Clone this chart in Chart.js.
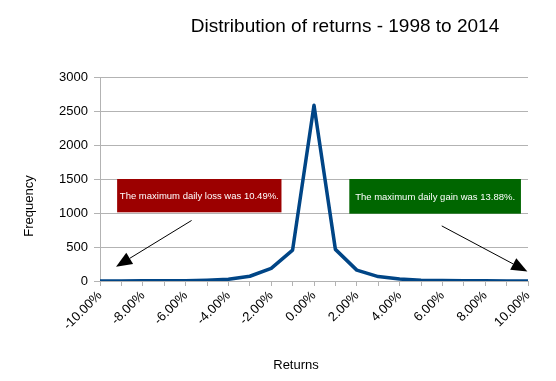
<!DOCTYPE html>
<html>
<head>
<meta charset="utf-8">
<script src="https://cdn.jsdelivr.net/npm/chart.js@4.4.1/dist/chart.umd.min.js"></script>
<style>
  html, body { margin: 0; padding: 0; background: #fff; }
  #wrap { width: 556px; height: 381px; }
</style>
</head>
<body>
<div id="wrap"><canvas id="returns-chart"></canvas></div>
<script>
// daily returns buckets (1% steps)
const returnLabels = ['-10.00%', '-9.00%', '-8.00%', '-7.00%', '-6.00%', '-5.00%', '-4.00%', '-3.00%', '-2.00%', '-1.00%',
  '0.00%', '1.00%', '2.00%', '3.00%', '4.00%', '5.00%', '6.00%', '7.00%', '8.00%', '9.00%', '10.00%'];
const frequencies = [1, 1, 2, 3, 5, 12, 25, 70, 185, 455, 2585, 465, 160, 65, 28, 12, 6, 3, 2, 1, 1];
const yTicks = [0, 500, 1000, 1500, 2000, 2500, 3000];

const lossText = 'The maximum daily loss was 10.49%.';
const gainText = 'The maximum daily gain was 13.88%.';

const FONT = '"Liberation Sans", Arial, sans-serif';

// callout boxes + arrows, placed in data units (category index, frequency)
const callouts = [
  { text: lossText, color: '#9c0000', x0: 0.8, x1: 8.48, y0: 1500, y1: 1010,
    arrow: { from: [4.28, 890], to: [0.75, 210] } },
  { text: gainText, color: '#006600', x0: 11.65, x1: 19.67, y0: 1500, y1: 990,
    arrow: { from: [15.97, 810], to: [19.97, 140] } }
];

function drawArrow(ctx, fx, fy, tx, ty) {
  const ang = Math.atan2(ty - fy, tx - fx);
  const len = 16, half = 6.5;
  const bx = tx - len * Math.cos(ang), by = ty - len * Math.sin(ang);
  ctx.strokeStyle = '#000';
  ctx.lineWidth = 1;
  ctx.beginPath();
  ctx.moveTo(fx, fy);
  ctx.lineTo(bx, by);
  ctx.stroke();
  ctx.fillStyle = '#000';
  ctx.beginPath();
  ctx.moveTo(tx, ty);
  ctx.lineTo(bx + half * Math.sin(ang), by - half * Math.cos(ang));
  ctx.lineTo(bx - half * Math.sin(ang), by + half * Math.cos(ang));
  ctx.closePath();
  ctx.fill();
}

const extrasPlugin = {
  id: 'extras',
  afterDatasetsDraw(chart) {
    const { ctx, scales: { x, y } } = chart;
    ctx.save();
    callouts.forEach(c => {
      const l = x.getPixelForValue(c.x0), r = x.getPixelForValue(c.x1);
      const t = y.getPixelForValue(c.y0), b = y.getPixelForValue(c.y1);
      ctx.fillStyle = c.color;
      ctx.fillRect(l, t, r - l, b - t);
      ctx.fillStyle = '#fff';
      ctx.font = '9.5px ' + FONT;
      ctx.textAlign = 'center';
      ctx.textBaseline = 'middle';
      ctx.fillText(c.text, (l + r) / 2, (t + b) / 2 + 1);
      drawArrow(ctx,
        x.getPixelForValue(c.arrow.from[0]), y.getPixelForValue(c.arrow.from[1]),
        x.getPixelForValue(c.arrow.to[0]), y.getPixelForValue(c.arrow.to[1]));
    });

    // titles
    ctx.fillStyle = '#000';
    ctx.textAlign = 'center';
    ctx.textBaseline = 'middle';
    ctx.font = '19px ' + FONT;
    ctx.fillText('Distribution of returns - 1998 to 2014', 345, 27);
    ctx.font = '13px ' + FONT;
    ctx.fillText('Returns', 296, 365);
    ctx.translate(29, 206);
    ctx.rotate(-Math.PI / 2);
    ctx.fillText('Frequency', 0, 0);
    ctx.restore();
  }
};

new Chart(document.getElementById('returns-chart'), {
  type: 'line',
  data: {
    labels: returnLabels,
    datasets: [{
      data: frequencies,
      borderColor: '#004586',
      borderWidth: 3.5,
      borderJoinStyle: 'round',
      pointRadius: 0,
      tension: 0,
      fill: false
    }]
  },
  options: {
    responsive: true,
    maintainAspectRatio: false,
    animation: false,
    layout: { padding: { top: 77, right: 28, left: 0, bottom: 0 } },
    plugins: {
      legend: { display: false },
      tooltip: { enabled: false }
    },
    scales: {
      x: {
        offset: false,
        border: { color: '#b3b3b3' },
        grid: { drawOnChartArea: false, tickColor: '#b3b3b3', tickLength: 5 },
        ticks: {
          autoSkip: false,
          minRotation: 45,
          maxRotation: 45,
          padding: 2,
          color: '#000',
          font: { family: FONT, size: 13 },
          callback: (v, i) => (i % 2 === 0 ? returnLabels[i] : '')
        },
        afterFit: s => { s.height = 100; }
      },
      y: {
        min: 0,
        max: 3000,
        border: { color: '#b3b3b3' },
        grid: { color: '#b3b3b3', tickLength: 6 },
        afterBuildTicks: s => { s.ticks = yTicks.map(v => ({ value: v })); },
        ticks: {
          padding: 6,
          color: '#000',
          font: { family: FONT, size: 13 },
          callback: v => String(v)
        },
        afterFit: s => { s.width = 100; }
      }
    }
  },
  plugins: [extrasPlugin]
});
</script>
</body>
</html>
